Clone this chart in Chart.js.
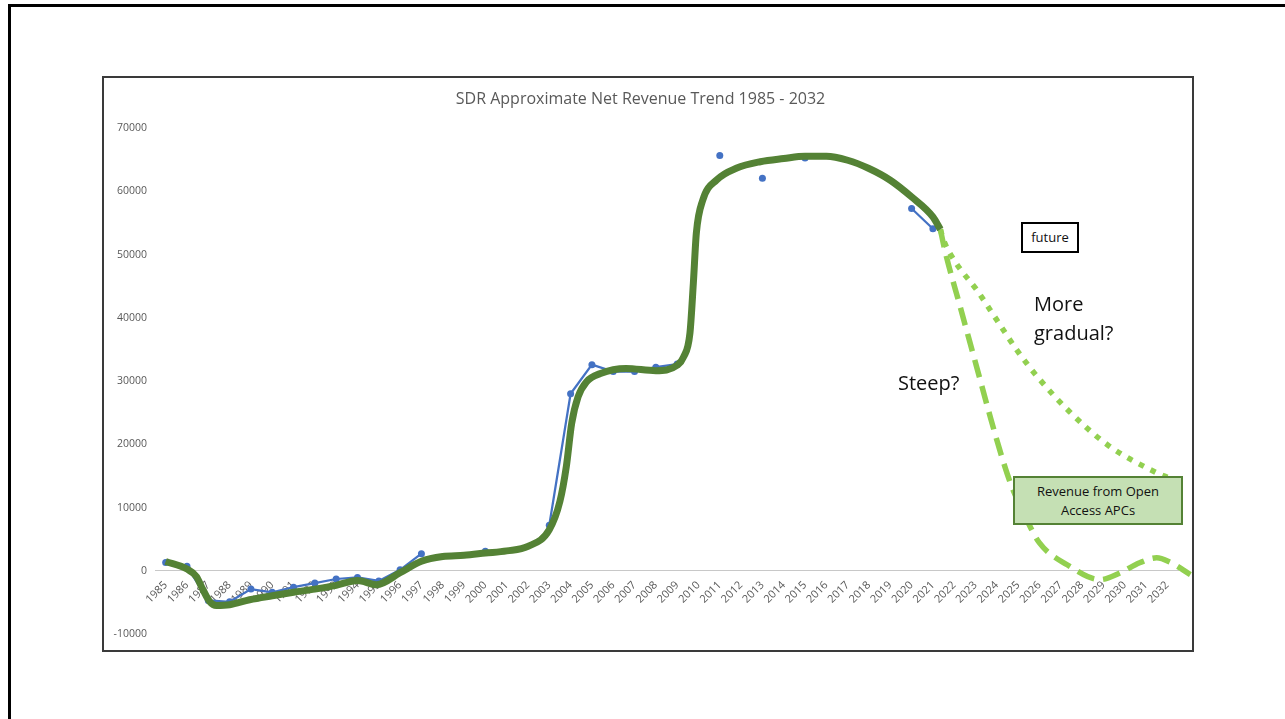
<!DOCTYPE html>
<html>
<head>
<meta charset="utf-8">
<title>SDR Approximate Net Revenue Trend 1985 - 2032</title>
<script src="https://cdn.jsdelivr.net/npm/chart.js@4/dist/chart.umd.min.js"></script>
<style>
  html, body { margin: 0; padding: 0; background: #fff; }
  body { width: 1285px; height: 719px; position: relative; overflow: hidden; font-family: 'Open Sans', sans-serif; }
  .frame { position: absolute; left: 8px; top: 4px; right: -10px; bottom: -10px;
           border-top: 3px solid #000; border-left: 3px solid #000; }
  .plotbox { position: absolute; left: 102px; top: 76px; width: 1088px; height: 572px;
             border: 2px solid #3a3a3a; }
  #wrap { position: absolute; left: 103px; top: 77px; width: 1090px; height: 574px; }
  .note { position: absolute; color: #111; white-space: nowrap; }
  .future { left: 1021px; top: 222px; width: 54px; height: 27px; border: 2px solid #000;
            font-size: 13px; line-height: 27px; text-align: center; background: #fff; }
  .gradual { left: 1034px; top: 289px; font-size: 20px; line-height: 29px; }
  .steep { left: 898px; top: 368px; font-size: 20px; line-height: 29px; }
  .apc { left: 1013px; top: 476px; width: 166px; border: 2px solid #548235;
         background: #C5E0B4; font-size: 13px; line-height: 19px; text-align: center;
         padding-top: 4px; height: 41px; }
</style>
</head>
<body>
<div class="frame"></div>
<div class="plotbox"></div>
<div id="wrap"><canvas id="chart" width="1090" height="574"></canvas></div>
<div class="note future">future</div>
<div class="note gradual">More<br>gradual?</div>
<div class="note steep">Steep?</div>
<div class="note apc">Revenue from Open<br>Access APCs</div>
<script>
// Year categories on the horizontal axis
const years = [
  1985, 1986, 1987, 1988, 1989, 1990, 1991, 1992, 1993, 1994, 1995, 1996,
  1997, 1998, 1999, 2000, 2001, 2002, 2003, 2004, 2005, 2006, 2007, 2008,
  2009, 2010, 2011, 2012, 2013, 2014, 2015, 2016, 2017, 2018, 2019, 2020,
  2021, 2022, 2023, 2024, 2025, 2026, 2027, 2028, 2029, 2030, 2031, 2032
];

// Approximate net revenue per year (null = no figure for that year)
const netRevenue = [
  1300, 700, -4700, -4900, -2900, -3400, -2600, -1950, -1300, -1050, -1600, 150,
  2700, null, null, 3100, null, null, 7200, 28000, 32600, 31500, 31500, 32200,
  32700, null, 65700, null, 62100, null, 65300, null, null, null, null, 57300,
  54100, null, null, null, null, null, null, null, null, null, null, null
];

// Smoothed trend through the actuals
const trendYears = [
  1985, 1986, 1986.44, 1986.75, 1987.06, 1987.38, 1988, 1988.94, 1990, 1991,
  1992, 1993, 1994, 1994.9, 1996, 1997, 1998, 1999, 2000, 2001, 2002, 2003,
  2003.5, 2003.8, 2004.05, 2004.35, 2004.75, 2005.4, 2006.6, 2008, 2009, 2009.3,
  2009.6, 2009.76, 2009.9, 2010.2, 2010.85, 2011.8, 2012.9, 2014, 2015, 2016,
  2017, 2018, 2019, 2020, 2021, 2021.35
];
const trendValues = [
  1470, 270, -900, -3000, -4850, -5480, -5370, -4580, -3950, -3400,
  -2900, -2300, -1530, -2200, -300, 1500, 2250, 2450, 2800, 3150, 3850, 6500,
  11000, 16500, 23300, 27500, 29900, 31200, 32000, 31650, 32500, 33800,
  37600, 45500, 53400, 58600, 61800, 63700, 64700, 65200, 65560, 65560,
  64930, 63620, 61770, 59130, 55970, 54000
];

// Scenario: steep decline, then revenue from open access APCs
const steepYears = [
  2021.35, 2021.56, 2022.26, 2023.04, 2023.67, 2024.28, 2024.7, 2025.3, 2026.0,
  2027.3, 2028.85, 2029.8, 2030.7, 2031.5, 2032.1, 2033.08
];
const steepValues = [
  54000, 50700, 42000, 32400, 24600, 17500, 13300, 8800, 4400,
  950, -1400, -300, 1260, 2050, 1400, -600
];

// Scenario: more gradual decline
const gradualYears = [
  2021.35, 2021.5, 2022.1, 2023.06, 2024.0, 2024.94, 2025.9, 2027.4, 2029.2, 2031.5, 2032.0
];
const gradualValues = [
  54000, 52300, 48600, 44400, 39650, 34900, 30700, 25200, 19900, 15500, 14800
];

// Y-axis tick values
const yTicks = [-10000, 0, 10000, 20000, 30000, 40000, 50000, 60000, 70000];

const pairs = (xs, ys) => xs.map((x, i) => ({ x: x, y: ys[i] }));

Chart.defaults.font.family = "'Open Sans', sans-serif";
Chart.defaults.color = '#595959';

new Chart(document.getElementById('chart'), {
  type: 'line',
  data: {
    datasets: [
      {
        label: 'Trend',
        data: pairs(trendYears, trendValues),
        borderColor: '#548235',
        borderWidth: 7,
        pointRadius: 0,
        cubicInterpolationMode: 'monotone',
        borderCapStyle: 'butt',
        order: 0
      },
      {
        label: 'Net revenue',
        data: pairs(years, netRevenue),
        borderColor: '#4472C4',
        backgroundColor: '#4472C4',
        borderWidth: 2.25,
        pointRadius: 3.5,
        pointBorderWidth: 0,
        spanGaps: false,
        order: 1
      },
      {
        label: 'Steep',
        data: pairs(steepYears, steepValues),
        borderColor: '#92D050',
        borderWidth: 5.5,
        borderDash: [18, 9],
        pointRadius: 0,
        cubicInterpolationMode: 'monotone',
        clip: false,
        order: 2
      },
      {
        label: 'More gradual',
        data: pairs(gradualYears, gradualValues),
        borderColor: '#92D050',
        borderWidth: 5.5,
        borderDash: [5.5, 7.5],
        pointRadius: 0,
        cubicInterpolationMode: 'monotone',
        clip: false,
        order: 2
      }
    ]
  },
  options: {
    responsive: false,
    animation: false,
    events: [],
    layout: { padding: { left: 0, right: 15, top: 0, bottom: 17 } },
    plugins: {
      legend: { display: false },
      tooltip: { enabled: false },
      title: {
        display: true,
        text: 'SDR Approximate Net Revenue Trend 1985 - 2032',
        color: '#595959',
        font: { size: 16, weight: 'normal' },
        padding: { top: 13, bottom: 19 }
      }
    },
    scales: {
      x: {
        type: 'linear',
        min: 1984.5,
        max: 2032.5,
        position: { y: 0 },
        grid: { display: false, drawTicks: false },
        border: { display: true, color: '#c8c8c8', width: 1 },
        afterBuildTicks: (s) => { s.ticks = years.map(v => ({ value: v })); },
        afterFit: (s) => { s.height = 0; },
        ticks: {
          autoSkip: false,
          minRotation: 45,
          maxRotation: 45,
          padding: 8,
          font: { size: 11 },
          color: '#595959',
          callback: (v) => String(v)
        }
      },
      y: {
        min: -10000,
        max: 70000,
        grid: { display: false, drawTicks: false },
        border: { display: false },
        afterBuildTicks: (s) => { s.ticks = yTicks.map(v => ({ value: v })); },
        afterFit: (s) => { s.width = 52; },
        ticks: {
          padding: 8,
          font: { size: 10.5 },
          color: '#595959',
          callback: (v) => String(v)
        }
      }
    }
  }
});
</script>
</body>
</html>
